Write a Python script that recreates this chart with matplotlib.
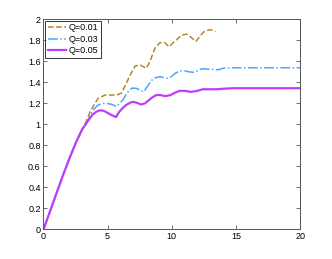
import numpy as np
import matplotlib
matplotlib.use('Agg')
import matplotlib.pyplot as plt

plt.rcParams['font.family'] = ['Liberation Sans', 'DejaVu Sans']

# Q=0.01
x1 = [0, 0.5, 1, 1.5, 2, 2.5, 3, 3.3, 3.63, 4.0, 4.28, 4.8, 5.2, 5.7, 6.1, 6.4, 6.8, 7.14,
      7.53, 8.0, 8.3, 8.57, 8.7, 9.09, 9.43, 9.79, 10.2, 10.78, 11.17, 11.5, 11.87, 12.2,
      12.47, 12.86, 13.1, 13.4]
y1 = [0, 0.17, 0.34, 0.51, 0.67, 0.82, 0.95, 1.02, 1.12, 1.2, 1.25, 1.28, 1.28, 1.28, 1.30,
      1.38, 1.48, 1.557, 1.567, 1.535, 1.60, 1.69, 1.73, 1.78, 1.78, 1.74, 1.79, 1.85, 1.86,
      1.83, 1.79, 1.84, 1.88, 1.90, 1.90, 1.885]

# Q=0.03
x2 = [0, 0.5, 1, 1.5, 2, 2.5, 3, 3.5, 3.9, 4.2, 4.54, 4.9, 5.19, 5.45, 5.71, 6.0, 6.2, 6.5,
      6.88, 7.2, 7.5, 7.8, 8.2, 8.57, 9.1, 9.6, 9.9, 10.3, 10.65, 11.0, 11.4, 11.7, 12.0,
      12.35, 13.0, 13.6, 14.0, 15, 17, 20]
y2 = [0, 0.17, 0.34, 0.51, 0.67, 0.82, 0.95, 1.05, 1.14, 1.18, 1.20, 1.20, 1.195, 1.185,
      1.17, 1.21, 1.235, 1.30, 1.345, 1.345, 1.33, 1.31, 1.38, 1.44, 1.455, 1.44, 1.45, 1.49,
      1.51, 1.51, 1.50, 1.497, 1.51, 1.53, 1.526, 1.52, 1.535, 1.54, 1.54, 1.54]

# Q=0.05
x3 = [0, 0.5, 1, 1.5, 2, 2.5, 3, 3.5, 3.8, 4.1, 4.4, 4.7, 5.0, 5.3, 5.65, 5.9, 6.2, 6.5, 6.8,
      7.0, 7.3, 7.6, 7.9, 8.2, 8.5, 8.8, 9.1, 9.5, 9.9, 10.2, 10.6, 11.0, 11.5, 12.0, 12.4,
      13.0, 13.5, 14.0, 14.8, 16, 18, 20]
y3 = [0, 0.17, 0.34, 0.51, 0.67, 0.82, 0.95, 1.04, 1.09, 1.12, 1.135, 1.13, 1.11, 1.09, 1.07,
      1.12, 1.16, 1.19, 1.21, 1.215, 1.205, 1.19, 1.20, 1.23, 1.26, 1.28, 1.28, 1.27, 1.28,
      1.30, 1.32, 1.32, 1.31, 1.32, 1.335, 1.335, 1.335, 1.34, 1.345, 1.345, 1.345, 1.345]

labels = ['Q=0.01', 'Q=0.03', 'Q=0.05']

fig = plt.figure(figsize=(3.32, 2.59), dpi=100)
ax = fig.add_axes([0.131, 0.114, 0.773, 0.811])

ax.plot(x1, y1, '--', color='#B8862B', lw=1.1, label=labels[0])
ax.plot(x2, y2, '-.', color='#4DA6FF', lw=1.1, label=labels[1])
ax.plot(x3, y3, '-', color='#BF3CFF', lw=1.6, label=labels[2])

ax.set_xlim(0, 20)
ax.set_ylim(0, 2)
ax.set_xticks([0, 5, 10, 15, 20])
ax.set_yticks(np.arange(0, 2.01, 0.2))
ax.set_yticklabels(['0', '0.2', '0.4', '0.6', '0.8', '1', '1.2', '1.4', '1.6', '1.8', '2'])
ax.tick_params(direction='in', top=True, right=True, labelsize=6.5, length=3,
               width=0.6, color='#555555', pad=2)
for s in ax.spines.values():
    s.set_color('#555555')
    s.set_linewidth(0.7)

leg = ax.legend(loc='upper left', fontsize=6.5, frameon=True, fancybox=False,
                borderpad=0.3, handlelength=2.0, handletextpad=0.3, labelspacing=0.25,
                borderaxespad=0.15)
leg.get_frame().set_edgecolor('black')
leg.get_frame().set_linewidth(0.7)

fig.savefig('out.png', dpi=100)
